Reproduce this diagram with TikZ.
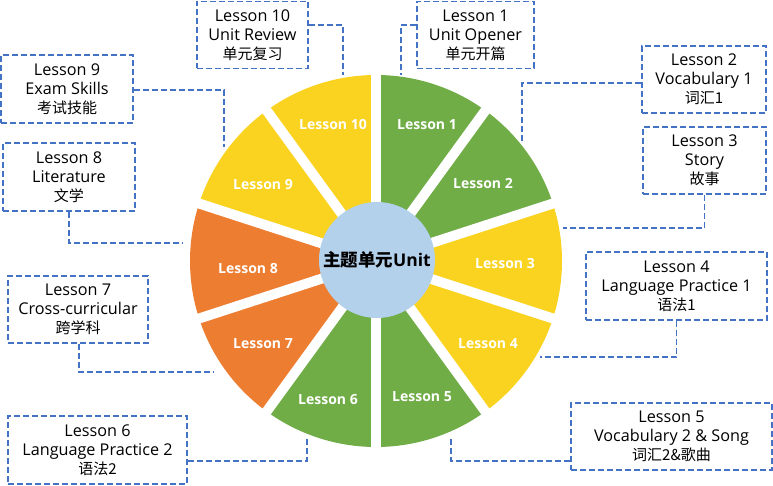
\documentclass[tikz,border=0pt]{standalone}
\usepackage{fontspec}
\setmainfont{Open Sans}
\newfontfamily\cjkf{Noto Sans CJK SC}
\newcommand{\cjk}{\fontsize{15}{19}\cjkf}
\definecolor{lgreen}{HTML}{70AD47}
\definecolor{lyellow}{HTML}{FAD320}
\definecolor{lorange}{HTML}{ED7D31}
\definecolor{lblue}{HTML}{B4D1EC}
\definecolor{dblue}{HTML}{4472C4}
\begin{document}
\begin{tikzpicture}[x=1pt,y=-1pt,
  infobox/.style={draw=dblue, dash pattern=on 6pt off 3pt, line width=1.8pt,
    align=center, inner sep=0pt, font=\fontsize{16.2}{19}\selectfont},
  conn/.style={draw=dblue, dash pattern=on 6pt off 3pt, line width=1.8pt},
  seglabel/.style={text=white, font=\fontsize{14}{16}\selectfont\bfseries}]
\useasboundingbox (0,0) rectangle (773,486);
\coordinate (c) at (376,261);
% sectors
\foreach \k/\col in {1/lgreen,2/lgreen,3/lyellow,4/lyellow,5/lgreen,6/lgreen,7/lorange,8/lorange,9/lyellow,10/lyellow}{
  \fill[\col] (c) -- ++({36*\k-126}:186) arc[start angle={36*\k-126}, end angle={36*\k-90}, radius=186] -- cycle;
}
\foreach \a in {0,...,9}{
  \draw[white, line width=10pt] (c) -- ++({36*\a-90}:196);
}
\node[circle, fill=lblue, minimum size=116pt, inner sep=0pt] (hub) at (377,260)
  {\fontsize{17.5}{20}\selectfont\bfseries{\cjkf\fontsize{17.5}{20}\selectfont 主题单元}Unit};
% sector labels
\node[seglabel] (s1) at (427,125) {Lesson 1};
\node[seglabel] (s2) at (483,184) {Lesson 2};
\node[seglabel] (s3) at (505,263) {Lesson 3};
\node[seglabel] (s4) at (488,344) {Lesson 4};
\node[seglabel] (s5) at (422,397) {Lesson 5};
\node[seglabel] (s6) at (328,400) {Lesson 6};
\node[seglabel] (s7) at (263,344) {Lesson 7};
\node[seglabel] (s8) at (248,269) {Lesson 8};
\node[seglabel] (s9) at (263,185) {Lesson 9};
\node[seglabel] (s10) at (333,124) {Lesson 10};
% boxes
\node[infobox, minimum width=111pt, minimum height=67pt] (b10) at (252.5,35) {Lesson 10\\Unit Review\\{\cjk 单元复习}};
\node[infobox, minimum width=117pt, minimum height=67pt] (b1) at (475.5,35) {Lesson 1\\Unit Opener\\{\cjk 单元开篇}};
\node[infobox, minimum width=124pt, minimum height=67pt] (b2) at (704,79.5) {Lesson 2\\Vocabulary 1\\{\cjk 词汇1}};
\node[infobox, minimum width=123pt, minimum height=67pt] (b3) at (704.5,160.5) {Lesson 3\\Story\\{\cjk 故事}};
\node[infobox, minimum width=181pt, minimum height=68pt] (b4) at (676.5,286) {Lesson 4\\Language Practice 1\\{\cjk 语法1}};
\node[infobox, minimum width=201pt, minimum height=67pt] (b5) at (671.5,436.5) {Lesson 5\\Vocabulary 2 \& Song\\{\cjk 词汇2\&歌曲}};
\node[infobox, minimum width=179pt, minimum height=68pt] (b6) at (97.5,450) {Lesson 6\\Language Practice 2\\{\cjk 语法2}};
\node[infobox, minimum width=140pt, minimum height=67pt] (b7) at (78,309.5) {Lesson 7\\Cross-curricular\\{\cjk 跨学科}};
\node[infobox, minimum width=132pt, minimum height=68pt] (b8) at (69,177) {Lesson 8\\Literature\\{\cjk 文学}};
\node[infobox, minimum width=132pt, minimum height=68pt] (b9) at (67,89) {Lesson 9\\Exam Skills\\{\cjk 考试技能}};
% connector ends
\coordinate (e10) at (343,75);
\coordinate (e1) at (401,75);
\coordinate (e2) at (522,143);
\coordinate (e3) at (563,228);
\coordinate (e9) at (224,147);
\coordinate (e8) at (183,243);
\coordinate (e7) at (213,372);
\coordinate (e6) at (307,438);
\coordinate (e4) at (540,357);
\coordinate (e5) at (451,439);
% connectors
\draw[conn] ([yshift=10pt]b10.east) -| (e10);
\draw[conn] ([yshift=10pt]b1.west) -| (e1);
\draw[conn] ([yshift=-3.5pt]b2.west) -| (e2);
\draw[conn] (b3.south) |- (e3);
\draw[conn] ([yshift=-1pt]b9.east) -| (e9);
\draw[conn] (b8.south) |- (e8);
\draw[conn] ([xshift=1pt]b7.south) |- (e7);
\draw[conn] ([yshift=-11pt]b6.east) -| (e6);
\draw[conn] (b4.south) |- (e4);
\draw[conn] ([yshift=-24.5pt]b5.west) -| (e5);
\end{tikzpicture}
\end{document}
